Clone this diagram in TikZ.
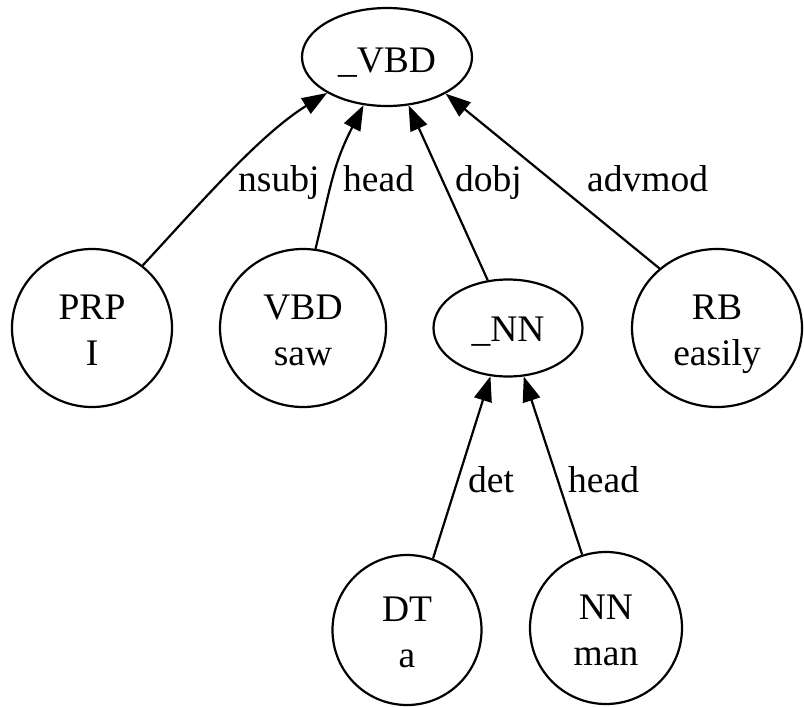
\documentclass[tikz,border=0pt]{standalone}
\usepackage{fontspec}
\setmainfont{Liberation Serif}
\usetikzlibrary{shapes.geometric,arrows.meta}
\newcommand\twoline[2]{\vtop{\baselineskip=46pt\halign{\hfil##\hfil\cr#1\cr#2\cr}}}
\tikzset{
  txt/.style={font=\fontsize{37.5}{46}\selectfont},
  tok/.style={txt, draw, ellipse, line width=2.2pt, inner sep=0pt, text height=20pt, text depth=38pt},
  phr/.style={txt, draw, ellipse, line width=2.2pt, inner sep=0pt, text depth=0pt},
  dep/.style={-{Triangle[length=25pt,width=18pt]}, line width=2.2pt},
  lab/.style={txt, anchor=base west, inner sep=0pt}
}
\begin{document}
\begin{tikzpicture}[x=1pt,y=-1pt]
\useasboundingbox (0,0) rectangle (804,707);
\node[phr, minimum width=170pt, minimum height=98pt, text height=30pt] (VBD) at (387,57) {\_VBD};
\node[tok, minimum width=160pt, minimum height=158pt] (PRP) at (92,328) {\twoline{PRP}{I}};
\node[tok, minimum width=166pt, minimum height=158pt] (saw) at (303,328) {\twoline{VBD}{saw}};
\node[phr, minimum width=149pt, minimum height=97pt, text height=26pt] (NNp) at (508,328) {\_NN};
\node[tok, minimum width=170pt, minimum height=158pt] (RB) at (717,328) {\twoline{RB}{easily}};
\node[tok, minimum width=149pt, minimum height=150pt] (DT) at (407,630) {\twoline{DT}{a}};
\node[tok, minimum width=152pt, minimum height=152pt] (NN) at (606,628) {\twoline{NN}{man}};

\draw[dep] (PRP.51) .. controls (197,207) and (259,135) .. (VBD.211);
\draw[dep] (saw.81) .. controls (331,185) and (333,165) .. (VBD.244);
\draw[dep] (NNp.113) -- (VBD.294);
\draw[dep] (RB.134) -- (VBD.328);
\draw[dep] (DT.70) -- (NNp.250);
\draw[dep] (NN.108) -- (NNp.288);

\node[lab] (l1) at (238,191) {nsubj};
\node[lab] (l2) at (343,191) {head};
\node[lab] (l3) at (455,191) {dobj};
\node[lab] (l4) at (587,191) {advmod};
\node[lab] (l5) at (468,492) {det};
\node[lab] (l6) at (568,492) {head};
\end{tikzpicture}
\end{document}
